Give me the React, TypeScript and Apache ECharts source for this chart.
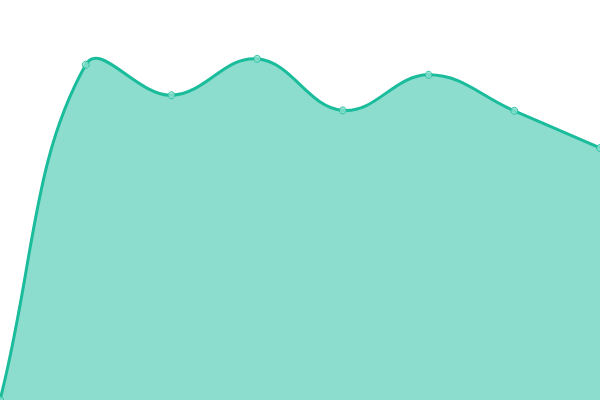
import React, { useEffect, useRef } from 'react';
import * as echarts from 'echarts';

const categories = ['1', '2', '3', '4', '5', '6', '7', '8'];
const values = [0, 83.8, 76.2, 85.3, 72.4, 81.3, 72.3, 63];
const yMax = 100;
const tension = 0.4;

const lineColor = '#1abc9c';
const fillColor = 'rgba(26, 188, 156, 0.5)';

// spline through the points, control points from the neighbours (cardinal style)
const buildPaths = (pts: number[][], base: number, w: number, h: number) => {
  const clamp = (v: number, lo: number, hi: number) => Math.max(lo, Math.min(hi, v));
  const cps = pts.map((p, i) => {
    const prev = pts[i - 1] || p;
    const next = pts[i + 1] || p;
    const d01 = Math.hypot(p[0] - prev[0], p[1] - prev[1]);
    const d12 = Math.hypot(next[0] - p[0], next[1] - p[1]);
    const sum = d01 + d12 || 1;
    const fa = (tension * d01) / sum;
    const fb = (tension * d12) / sum;
    return {
      prev: [clamp(p[0] - fa * (next[0] - prev[0]), 0, w), clamp(p[1] - fa * (next[1] - prev[1]), 0, h)],
      next: [clamp(p[0] + fb * (next[0] - prev[0]), 0, w), clamp(p[1] + fb * (next[1] - prev[1]), 0, h)],
    };
  });
  let d = `M${pts[0][0]},${pts[0][1]}`;
  for (let i = 1; i < pts.length; i++) {
    const a = cps[i - 1].next;
    const b = cps[i].prev;
    d += ` C${a[0]},${a[1]} ${b[0]},${b[1]} ${pts[i][0]},${pts[i][1]}`;
  }
  const last = pts[pts.length - 1];
  const area = `${d} L${last[0]},${base} L${pts[0][0]},${base} Z`;
  return { line: d, area };
};

const AreaChart = () => {
  const chartRef = useRef<HTMLDivElement>(null);

  useEffect(() => {
    const chartInstance = echarts.init(chartRef.current, null, { renderer: 'svg' });

    const option = {
      animation: false,
      grid: { left: 0, right: 0, top: 0, bottom: 0 },
      xAxis: {
        type: 'category',
        data: categories,
        boundaryGap: false,
        show: false,
      },
      yAxis: {
        type: 'value',
        min: 0,
        max: yMax,
        show: false,
      },
      series: [
        {
          type: 'custom',
          data: values,
          renderItem: (params: any, api: any) => {
            if (params.dataIndex !== 0) return null;
            const pts = values.map((v, i) => api.coord([i, v]));
            const base = api.coord([0, 0])[1];
            const { line, area } = buildPaths(pts, base, api.getWidth(), api.getHeight());
            return {
              type: 'group',
              children: [
                { type: 'path', shape: { pathData: area }, style: { fill: fillColor } },
                {
                  type: 'path',
                  shape: { pathData: line },
                  style: { fill: 'none', stroke: lineColor, lineWidth: 3 },
                },
              ],
            };
          },
        },
        {
          type: 'scatter',
          data: values,
          symbol: 'circle',
          symbolSize: 7,
          itemStyle: { color: '#8ae0ce', borderColor: lineColor, borderWidth: 1 },
        },
      ],
    };

    chartInstance.setOption(option);

    return () => {
      chartInstance.dispose();
    };
  }, []);

  return (
    <div
      ref={chartRef}
      style={{ position: 'fixed', left: 0, top: 0, width: '600px', height: '400px' }}
    />
  );
};

export default AreaChart;
